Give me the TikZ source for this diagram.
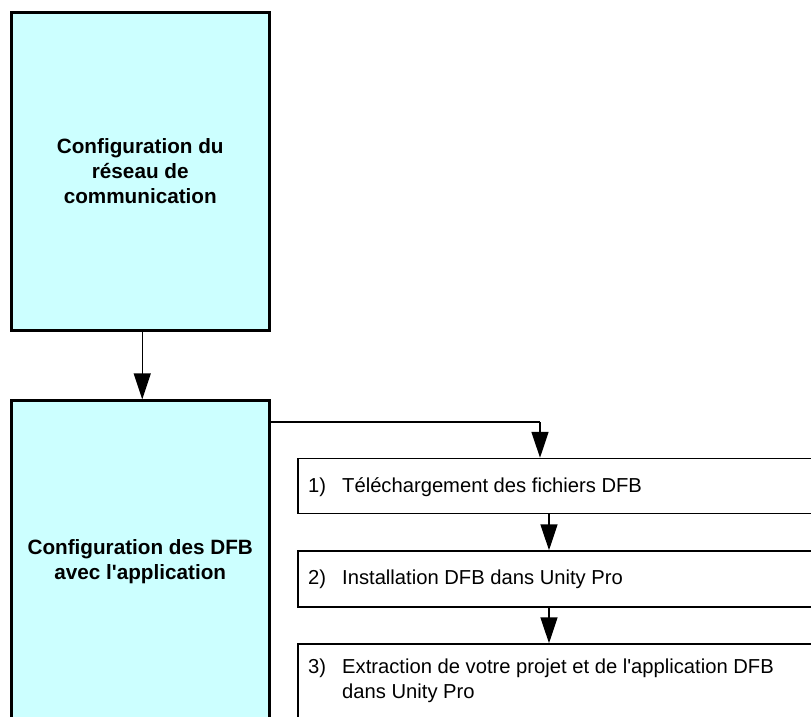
\documentclass[tikz,border=0pt]{standalone}
\usepackage{fontspec}
\setmainfont{Liberation Sans}
\usetikzlibrary{arrows.meta}
\definecolor{cyanfill}{RGB}{204,255,255}
\begin{document}
\begin{tikzpicture}[x=1pt,y=-1pt,
  mainbox/.style={draw=black, line width=3pt, fill=cyanfill, minimum width=257.5pt,
    inner sep=0pt, align=center, font=\fontsize{20.7}{25}\selectfont\bfseries},
  stepbox/.style={draw=black, line width=1.5pt, fill=white, minimum width=540pt,
    inner sep=0pt},
  steptext/.style={anchor=west, inner sep=0pt, align=left,
    font=\fontsize{20.2}{25}\selectfont},
  conn/.style={line width=1.5pt, -{Triangle[length=26pt,width=17pt]}},
  line/.style={line width=1.5pt}
]
\useasboundingbox (0,0) rectangle (811,716);
\clip (0,0) rectangle (811,716);

\node[mainbox, minimum height=318pt] (box1) at (140.25,171.5)
  {Configuration du\\réseau de\\communication};
\node[mainbox, minimum height=322.4pt] (box2) at (140.25,562)
  {Configuration des DFB\\avec l\textquotesingle application};

\node[stepbox, minimum height=55pt] (s1) at (567.75,486) {};
\node[stepbox, minimum height=56pt] (s2) at (567.75,579) {};
\node[stepbox, minimum height=112pt] (s3) at (567.75,700) {};

\node[steptext] (t1) at (308,487) {\makebox[34pt][l]{1)}Téléchargement des fichiers DFB};
\node[steptext] (t2) at (308,579.5) {\makebox[34pt][l]{2)}Installation DFB dans Unity Pro};
\node[steptext] (t3) at (308,681)
  {\begin{tabular}{@{}p{34pt}@{}l@{}}3) & Extraction de votre projet et de l\textquotesingle application DFB\\ & dans Unity Pro\end{tabular}};

\coordinate (k) at (540,422);
\coordinate (m) at (549,0);

\draw[conn] ([xshift=2pt]box1.south) -- ([xshift=2pt]box2.north);
\draw[line] (box2.east |- k) -- (k);
\draw[conn] (k) -- (s1.north -| k);
\draw[conn] (s1.south -| m) -- (s2.north -| m);
\draw[conn] (s2.south -| m) -- (s3.north -| m);
\end{tikzpicture}
\end{document}
